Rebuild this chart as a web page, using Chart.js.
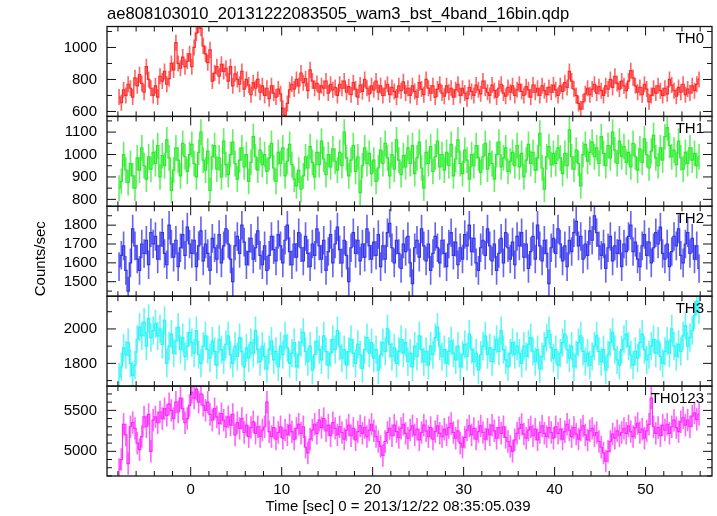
<!DOCTYPE html>
<html>
<head>
  <title>WAM BST light curve</title>
  <script src="https://cdn.jsdelivr.net/npm/chart.js"></script>
  <style>
    body { margin: 0; background: #fff; }
  </style>
</head>
<body>
  <canvas id="lcChart" width="717" height="516"></canvas>

  <script>
    // bin centres: first bin and bin width in sec
    const binStart = -7.875;
    const binWidth = 0.25;

    // count rates (counts/sec), 16 bins per row = 4 sec per row
    const th0Rate = [
      690,655,735,700,770,745,690,810,760,830,775,720,880,800,745,700,
      760,690,820,790,850,770,805,900,860,1030,900,870,940,880,915,960,
      880,1000,1090,1140,1120,1010,960,905,985,790,840,880,820,895,850,870,
      790,880,760,835,800,770,850,740,800,765,705,780,745,800,720,760,
      700,745,680,760,715,690,740,710,620,575,650,735,770,740,800,760,
      840,780,805,730,860,790,745,775,720,760,745,790,715,770,735,750,
      700,770,745,790,720,755,705,780,740,690,765,725,800,745,710,760,
      735,790,720,760,700,745,770,705,750,725,690,760,730,785,715,745,
      700,760,725,690,780,740,705,800,745,715,760,690,740,770,715,695,
      760,720,745,690,735,770,700,745,715,680,750,725,700,765,735,710,
      790,745,720,700,765,730,690,745,770,715,695,750,720,760,700,735,
      770,725,700,755,735,690,765,720,745,700,760,730,705,750,720,765,
      735,700,760,725,780,750,850,790,740,700,650,615,660,710,745,705,
      740,770,715,755,730,700,760,740,800,750,820,775,740,790,760,730,
      790,855,810,760,720,750,705,770,740,660,700,745,715,760,730,700,
      745,710,800,765,730,695,750,720,770,705,740,715,760,730,770,800
    ];
    const th1Rate = [
      850,880,1000,930,875,960,905,850,985,930,1030,950,890,990,935,1010,
      960,1040,900,995,950,1065,985,840,930,1030,975,905,1050,990,925,1000,
      1045,960,900,1010,1100,975,930,1015,840,990,1040,935,985,900,1060,955,
      910,1000,1055,960,890,975,1030,945,1000,880,965,1080,990,930,1020,955,
      1000,925,985,1050,940,880,1010,960,1030,905,970,1045,955,890,860,930,
      845,905,990,940,1035,965,900,1010,955,1060,980,910,1000,945,1025,970,
      930,1010,950,1100,985,905,975,1040,925,990,830,950,1030,960,1005,915,
      975,880,940,1020,960,1050,985,905,1000,935,1065,975,910,995,945,1030,
      960,1040,915,985,1055,940,850,1010,960,1035,925,990,1060,945,1000,930,
      1010,950,1045,905,980,1065,960,915,1020,975,890,1000,950,1040,985,920,
      990,1050,935,1005,960,890,1000,1055,945,985,1030,925,970,1010,950,1040,
      945,1005,900,975,1045,960,1010,930,985,1095,940,845,990,1035,955,1005,
      960,1030,985,915,1005,950,1110,990,935,1020,960,860,1000,1045,970,1010,
      1055,990,1030,960,1080,1005,950,1040,985,1100,1020,960,1060,990,1035,965,
      1010,945,1050,990,930,1025,965,1070,1000,940,1015,1085,985,950,1030,975,
      1080,1120,1040,990,1020,955,1060,985,935,1010,960,1030,975,1005,950,990
    ];
    const th2Rate = [
      1580,1640,1690,1560,1450,1600,1780,1690,1620,1560,1700,1650,1720,1590,1760,1700,
      1740,1620,1690,1760,1650,1590,1800,1700,1630,1720,1580,1680,1750,1640,1790,1700,
      1650,1720,1580,1690,1770,1610,1700,1650,1560,1730,1680,1620,1750,1600,1690,1780,
      1700,1620,1500,1690,1740,1650,1800,1710,1590,1660,1730,1620,1680,1770,1640,1590,
      1690,1560,1640,1740,1670,1610,1750,1690,1600,1720,1800,1660,1590,1700,1630,1760,
      1680,1610,1740,1650,1580,1700,1640,1780,1690,1620,1720,1560,1660,1750,1600,1700,
      1790,1670,1600,1720,1640,1500,1680,1760,1650,1720,1610,1700,1630,1780,1690,1620,
      1710,1640,1750,1580,1690,1620,1760,1810,1680,1600,1720,1650,1570,1700,1660,1740,
      1600,1490,1680,1720,1630,1780,1690,1610,1700,1560,1650,1740,1680,1600,1720,1650,
      1580,1700,1760,1640,1710,1590,1680,1620,1750,1690,1800,1660,1730,1600,1560,1680,
      1720,1640,1780,1690,1610,1700,1560,1650,1730,1600,1760,1680,1620,1710,1590,1740,
      1690,1760,1630,1700,1570,1660,1740,1620,1800,1690,1610,1720,1650,1490,1680,1730,
      1650,1780,1700,1610,1690,1580,1720,1660,1760,1820,1690,1740,1620,1700,1640,1770,
      1720,1850,1760,1690,1640,1700,1570,1680,1740,1610,1690,1650,1720,1580,1700,1660,
      1740,1800,1660,1710,1620,1580,1690,1750,1640,1710,1600,1680,1760,1700,1790,1650,
      1620,1700,1580,1660,1740,1690,1780,1640,1600,1700,1760,1650,1730,1620,1690,1570
    ];
    const th3Rate = [
      1720,1780,1890,1850,1920,1800,1730,1790,1940,2010,1960,2040,1900,2060,1950,1990,
      2030,1960,2000,1910,2050,1800,1900,1970,1860,1930,2010,1880,1950,1840,1900,1980,
      1920,1860,1990,1850,1800,1900,1960,1880,1830,1930,1870,1790,1940,1880,1820,1910,
      1960,1850,1800,1900,1840,1950,1870,1780,1890,1830,1920,1860,1990,1880,1810,1900,
      1840,1770,1880,1930,1820,1870,1780,1900,1850,1960,1890,1800,1860,1920,1780,1850,
      1920,1980,1870,1810,1900,1760,1850,1930,1880,1820,1960,1870,1790,1860,1940,1880,
      1990,1900,1830,1880,1790,1870,1940,1860,1800,1910,1850,1770,1880,1950,1860,1920,
      1830,1880,1760,1850,1920,1870,2000,1910,1840,1890,1800,1870,1940,1860,1920,1810,
      1860,1780,1900,1840,1960,1880,1810,1870,1790,1900,1850,1950,2010,1900,1840,1880,
      1800,1870,1930,1860,1820,1900,1780,1850,1910,1840,1970,1880,1810,1860,1760,1850,
      1900,1960,1850,1890,1810,1880,1940,1870,1990,1880,1820,1780,1860,1920,1850,1900,
      1860,1800,1900,1840,1910,1950,1870,1810,1880,1770,1840,1900,1950,1990,1890,1830,
      1880,1790,1860,1920,1970,1880,1830,1900,1780,1850,1920,1960,1870,1810,1860,1790,
      1840,1900,1960,1870,1810,1880,1760,1850,1920,1980,1880,1820,1790,1880,1940,1970,
      1900,1850,1790,1870,1830,1920,1970,1880,1820,1850,1900,1940,1860,1930,1840,1800,
      1870,1930,1860,2000,1900,1840,1910,1870,1960,2020,1900,1950,1990,2080,2160,2110
    ];
    const th0123Rate = [
      4780,4900,5330,5200,4850,5300,5350,5280,5100,5020,5180,5420,5300,5450,5000,5380,
      5420,5350,5480,5400,5520,5440,5580,5500,5400,5600,5480,5650,5520,5350,5400,5560,
      5720,5650,5760,5600,5700,5560,5500,5600,5450,5380,5520,5420,5340,5460,5380,5300,
      5420,5320,5450,5200,5350,5280,5400,5230,5320,5180,5290,5360,5220,5300,5180,5260,
      5300,5600,5240,5180,5290,5150,5230,5300,5160,5260,5200,5320,5240,5150,5280,5330,
      5220,5300,5050,4980,5150,5260,5330,5220,5380,5290,5400,5250,5320,5190,5350,5280,
      5200,5300,5230,5150,5260,5320,5190,5280,5140,5240,5310,5220,5290,5180,5260,5330,
      5250,5180,5120,5060,4950,5120,5230,5280,5190,5320,5240,5170,5280,5330,5220,5160,
      5260,5310,5200,5270,5140,5230,5320,5250,5180,5290,5150,5240,5310,5220,5180,5270,
      5200,5290,5340,5230,5160,5250,5100,5050,5170,5260,5310,5200,5280,5150,5240,5310,
      5230,5150,5270,5200,5320,5250,5160,5290,5220,5300,5170,5120,5060,5000,5140,5220,
      5280,5330,5210,5160,5260,5300,5190,5270,5140,5230,5310,5220,5180,5290,5230,5160,
      5300,5220,5270,5150,5240,5330,5260,5180,5290,5210,5150,5260,5310,5200,5140,5250,
      5280,5190,5230,5120,5050,4980,4880,5000,5120,5210,5160,5250,5190,5230,5280,5220,
      5310,5240,5180,5290,5340,5230,5270,5160,5250,5330,5650,5300,5220,5290,5190,5320,
      5260,5330,5220,5300,5380,5290,5240,5360,5410,5320,5380,5300,5430,5470,5390,5450
    ];

    const panelNames = ['TH0', 'TH1', 'TH2', 'TH3', 'TH0123'];
    const panelRates = [th0Rate, th1Rate, th2Rate, th3Rate, th0123Rate];
    const panelErrors = [48, 56, 74, 80, 133];   // typical half length of error bars
    const panelMin = [569, 769, 1423, 1668, 4699];
    const panelMax = [1131, 1170, 1900, 2190, 5796];
    const panelTicks = [[600, 800, 1000], [800, 900, 1000, 1100], [1500, 1600, 1700, 1800], [1800, 2000], [5000, 5500]];
    const panelMinorStep = [100, 50, 50, 100, 100];
    const timeTicks = [0, 10, 20, 30, 40, 50];
    const timeMinorStep = 2;
    const plotTitle = 'ae808103010_20131222083505_wam3_bst_4band_16bin.qdp';
    const timeTitle = 'Time [sec] 0 = 2013/12/22 08:35:05.039';

    const lineColors = ['rgb(255,40,40)', 'rgb(40,235,40)', 'rgb(50,50,240)', 'rgb(40,245,245)', 'rgb(255,40,255)'];
    const errColors = ['rgba(255,0,0,0.6)', 'rgba(0,230,0,0.6)', 'rgba(0,0,235,0.6)', 'rgba(0,240,240,0.6)', 'rgba(255,0,255,0.6)'];

    const fontFamily = '"Liberation Sans", Arial, Helvetica, sans-serif';
    const binTimes = th0Rate.map((_, i) => binStart + i * binWidth);

    // build datasets: step line + error bars for each panel
    const datasets = [];
    panelRates.forEach((rates, p) => {
      datasets.push({
        type: 'line',
        data: rates.map((v, i) => ({ x: binTimes[i], y: v })),
        yAxisID: 'y' + p,
        stepped: 'middle',
        borderColor: lineColors[p],
        borderWidth: 1.2,
        pointRadius: 0,
        order: 1,
        clip: 0
      });
      datasets.push({
        type: 'bar',
        data: rates.map((v, i) => ({ x: binTimes[i], y: [v - panelErrors[p], v + panelErrors[p]] })),
        yAxisID: 'y' + p,
        backgroundColor: errColors[p],
        barThickness: 1,
        grouped: false,
        order: 2,
        clip: 0
      });
    });

    const scales = {
      x: {
        type: 'linear',
        min: -9.2,
        max: 57.3,
        offset: false,
        grid: { display: false, drawTicks: false },
        border: { display: false },
        afterBuildTicks: s => { s.ticks = timeTicks.map(v => ({ value: v })); },
        afterFit: s => { s.height = 40; },
        ticks: {
          autoSkip: false, maxRotation: 0, padding: 5, color: '#000',
          font: { family: fontFamily, size: 15 },
          callback: v => String(v)
        }
      }
    };
    panelNames.forEach((name, p) => {
      scales['y' + p] = {
        type: 'linear',
        position: 'left',
        stack: 'panels',
        stackWeight: 1,
        weight: 5 - p,
        min: panelMin[p],
        max: panelMax[p],
        grid: { display: false, drawTicks: false },
        border: { display: false },
        afterBuildTicks: s => { s.ticks = panelTicks[p].map(v => ({ value: v })); },
        afterFit: s => { s.width = 107; },
        ticks: {
          autoSkip: false, padding: 10, color: '#000',
          font: { family: fontFamily, size: 15 },
          callback: v => String(v)
        },
        title: {
          display: p === 2,
          align: 'start',
          text: 'Counts/sec',
          color: '#000',
          font: { family: fontFamily, size: 15 },
          padding: { top: 32, bottom: 0 }
        }
      };
    });

    // frames, inward ticks on all sides, panel labels and time title
    const panelFrame = {
      id: 'panelFrame',
      afterDatasetsDraw(chart) {
        const ctx = chart.ctx;
        const xs = chart.scales.x;
        const seg = (x1, y1, x2, y2) => { ctx.beginPath(); ctx.moveTo(x1, y1); ctx.lineTo(x2, y2); ctx.stroke(); };
        ctx.save();
        ctx.strokeStyle = '#111';
        ctx.fillStyle = '#000';
        ctx.font = '15px ' + fontFamily;
        ctx.textAlign = 'right';
        panelNames.forEach((name, p) => {
          const ys = chart.scales['y' + p];
          ctx.lineWidth = 1.3;
          ctx.strokeRect(xs.left, ys.top, xs.right - xs.left, ys.bottom - ys.top);
          ctx.lineWidth = 1;
          const step = panelMinorStep[p];
          for (let v = Math.ceil(ys.min / step) * step; v <= ys.max; v += step) {
            const py = ys.getPixelForValue(v);
            const len = panelTicks[p].includes(v) ? 9 : 5;
            seg(xs.left, py, xs.left + len, py);
            seg(xs.right, py, xs.right - len, py);
          }
          for (let t = Math.ceil(xs.min / timeMinorStep) * timeMinorStep; t <= xs.max; t += timeMinorStep) {
            const px = xs.getPixelForValue(t);
            const len = timeTicks.includes(t) ? 9 : 5;
            seg(px, ys.top, px, ys.top + len);
            seg(px, ys.bottom, px, ys.bottom - len);
          }
          ctx.fillText(name, xs.right - 8, ys.top + 16.7);
        });
        ctx.textAlign = 'center';
        ctx.fillText(timeTitle, 398, 510.5);
        ctx.restore();
      }
    };

    new Chart(document.getElementById('lcChart'), {
      type: 'line',
      data: { datasets: datasets },
      options: {
        responsive: false,
        animation: false,
        layout: { padding: { left: 0, right: 5, top: 0, bottom: 0 } },
        plugins: {
          legend: { display: false },
          tooltip: { enabled: false },
          title: {
            display: true,
            fullSize: false,
            align: 'start',
            text: plotTitle,
            color: '#000',
            font: { family: fontFamily, size: 16.6, weight: 'normal' },
            padding: { top: 4.2, bottom: 2.4 }
          }
        },
        scales: scales
      },
      plugins: [panelFrame]
    });
  </script>
</body>
</html>
